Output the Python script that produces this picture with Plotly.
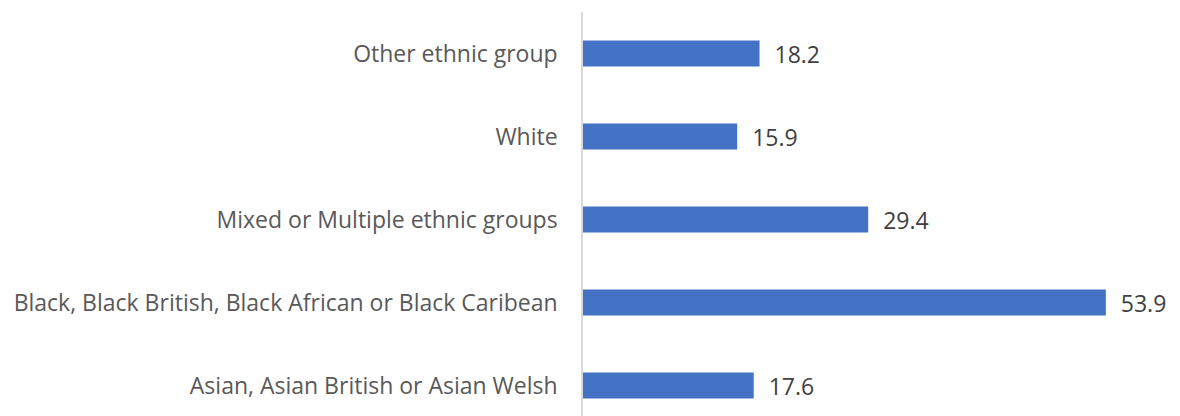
import plotly.graph_objects as go

# Données (de bas en haut)
groupes = [
    "Asian, Asian British or Asian Welsh",
    "Black, Black British, Black African or Black Caribean",
    "Mixed or Multiple ethnic groups",
    "White",
    "Other ethnic group",
]
valeurs = [17.6, 53.9, 29.4, 15.9, 18.2]

COLOR_BAR = "#4472C4"
COLOR_TEXT = "#595959"

fig = go.Figure(go.Bar(
    x=valeurs,
    y=groupes,
    orientation="h",
    marker=dict(color=COLOR_BAR, line=dict(width=0)),
    text=["\u00a0\u00a0" + f"{v:.1f}" for v in valeurs],
    textposition="outside",
    constraintext="none",
    textfont=dict(color="#404040", size=23),
    cliponaxis=False,
))

# la page ajoute une marge de 8 px autour du graphique
fig.update_layout(
    width=1172,
    height=408,
    margin=dict(l=575, r=15, t=4, b=0),
    bargap=0.687,
    plot_bgcolor="white",
    paper_bgcolor="white",
    font=dict(family="Open Sans", color=COLOR_TEXT, size=23),
    showlegend=False,
    xaxis=dict(range=[0, 60], visible=False, fixedrange=True),
    yaxis=dict(
        range=[-0.367, 4.5],
        showline=True,
        linecolor="#D9D9D9",
        linewidth=1.5,
        showgrid=False,
        ticks="",
        ticklabelstandoff=19,
        automargin=False,
        fixedrange=True,
    ),
)

fig.write_html("out.html")
